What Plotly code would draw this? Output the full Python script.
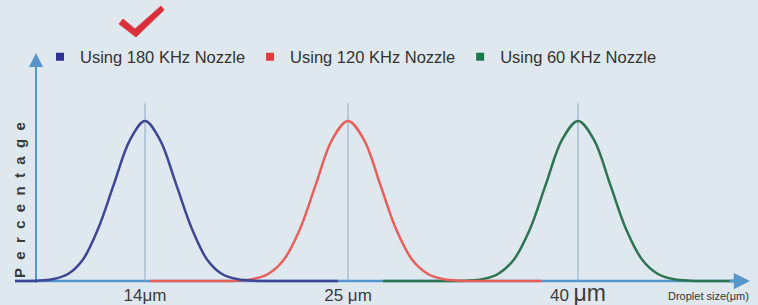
import plotly.graph_objects as go

# ---- data (x in chart position units, y in percent of peak) ----
series_names = ["Using 180 KHz Nozzle", "Using 120 KHz Nozzle", "Using 60 KHz Nozzle"]
centers = [145, 348, 578]
tick_labels = ["14μm", "25 μm", "40 <span style='font-size:23px'>μm</span>"]

blue_x = [15, 21, 37, 52, 68, 83, 98, 114, 130, 145, 160, 176, 192, 207, 222, 238, 254, 269, 338]
blue_y = [0, 0, 0.2, 1.1, 4.4, 13.5, 32.5, 60.7, 88.2, 100, 88.2, 60.7, 32.5, 13.5, 4.4, 1.1, 0.2, 0, 0]

red_x = [150, 220, 236, 252, 268, 284, 300, 316, 332, 348, 364, 380, 396, 412, 428, 444, 460, 476, 541]
red_y = [0, 0, 0.2, 1.1, 4.4, 13.5, 32.5, 60.7, 88.2, 100, 88.2, 60.7, 32.5, 13.5, 4.4, 1.1, 0.2, 0, 0]

green_x = [383, 450, 466, 482, 498, 514, 530, 546, 562, 578, 594, 610, 626, 642, 658, 674, 690, 706, 735]
green_y = [0, 0, 0.2, 1.1, 4.4, 13.5, 32.5, 60.7, 88.2, 100, 88.2, 60.7, 32.5, 13.5, 4.4, 1.1, 0.2, 0, 0]

line_colors = ["#3d4795", "#e8605a", "#2e7450"]
legend_colors = ["#2e3192", "#e23b3b", "#1d7a4c"]

# ---- figure geometry ----
W, H = 758, 305
MB = 22
PLOT_H = H - MB
BASE_PX = 281
PX_PER_UNIT = 1.6
AXIS_COLOR = "#5596cd"
BG = "#dfe8ee"


def paper_x(px):
    return px / W


def paper_y(py):
    return 1 - py / PLOT_H


def unit_y(py):
    return (BASE_PX - py) / PX_PER_UNIT


fig = go.Figure()

# axis lines (drawn under the series)
fig.add_trace(go.Scatter(x=[15, 738], y=[0, 0], mode="lines",
                         line=dict(color=AXIS_COLOR, width=2.5),
                         showlegend=False, hoverinfo="skip", cliponaxis=False))
fig.add_trace(go.Scatter(x=[36, 36], y=[unit_y(290), unit_y(62)], mode="lines",
                         line=dict(color=AXIS_COLOR, width=2),
                         showlegend=False, hoverinfo="skip", cliponaxis=False))

# thin centre lines
for c in centers:
    fig.add_trace(go.Scatter(x=[c, c], y=[0, unit_y(103)], mode="lines",
                             line=dict(color="#8eaccc", width=1),
                             showlegend=False, hoverinfo="skip"))

# distribution curves
for xs, ys, col, name in [(green_x, green_y, line_colors[2], series_names[2]),
                          (red_x, red_y, line_colors[1], series_names[1]),
                          (blue_x, blue_y, line_colors[0], series_names[0])]:
    fig.add_trace(go.Scatter(x=xs, y=ys, mode="lines", name=name,
                             line=dict(color=col, width=2.5, shape="spline", smoothing=1.0),
                             showlegend=False, cliponaxis=False))

# legend entries (square markers)
for name, col in zip(series_names, legend_colors):
    fig.add_trace(go.Scatter(x=[None], y=[None], mode="markers", name=name,
                             marker=dict(symbol="square", size=8, color=col)))

annotations = [
    # axis arrow heads
    dict(x=750, y=0, ax=728, ay=0, xref="x", yref="y", axref="x", ayref="y",
         text="", showarrow=True, arrowhead=2, arrowsize=1.3, arrowwidth=2.5,
         arrowcolor=AXIS_COLOR),
    dict(x=36, y=unit_y(53), ax=36, ay=unit_y(72), xref="x", yref="y", axref="x", ayref="y",
         text="", showarrow=True, arrowhead=2, arrowsize=1.4, arrowwidth=2,
         arrowcolor=AXIS_COLOR),
    # y title
    dict(x=paper_x(19), y=paper_y(200), xref="paper", yref="paper",
         xanchor="center", yanchor="middle",
         text="\u00a0\u00a0".join("Percentage"), textangle=-90, showarrow=False,
         font=dict(family="Liberation Sans, Arial", size=15, color="#3a3a3a", weight="bold")),
    # x title
    dict(x=paper_x(708), y=paper_y(296), xref="paper", yref="paper",
         xanchor="center", yanchor="middle",
         text="Droplet size(μm)", showarrow=False,
         font=dict(family="Liberation Sans Narrow, Liberation Sans, Arial", size=11, color="#333333")),
]

# red check mark (decoration)
ck = [(119, 24), (123, 19), (135, 29), (161, 6), (164, 10), (136, 37)]
path = "M " + " L ".join(f"{paper_x(a):.4f},{paper_y(b):.4f}" for a, b in ck) + " Z"
shapes = [dict(type="path", xref="paper", yref="paper", path=path,
               fillcolor="#d8303a", line=dict(color="#e0454c", width=1))]

fig.update_layout(
    width=W, height=H,
    margin=dict(l=0, r=0, t=0, b=MB),
    paper_bgcolor=BG, plot_bgcolor=BG,
    xaxis=dict(range=[0, W], showgrid=False, zeroline=False, showline=False,
               tickvals=centers, ticktext=tick_labels, ticks="",
               tickfont=dict(family="Liberation Sans, Arial", size=17, color="#3c3c3c")),
    yaxis=dict(range=[unit_y(PLOT_H), unit_y(0)], showgrid=False, zeroline=False,
               showline=False, showticklabels=False, ticks=""),
    legend=dict(orientation="h", x=paper_x(40), y=paper_y(57), xanchor="left", yanchor="middle",
                bgcolor="rgba(0,0,0,0)", itemwidth=30,
                font=dict(family="Liberation Sans Narrow, Liberation Sans, Arial", size=16.5,
                          color="#333333")),
    annotations=annotations,
    shapes=shapes,
    hovermode=False,
)

fig.write_html("out.html",
               config={"displayModeBar": False, "staticPlot": True},
               post_script="document.body.style.margin='0';document.body.style.overflow='hidden';")
